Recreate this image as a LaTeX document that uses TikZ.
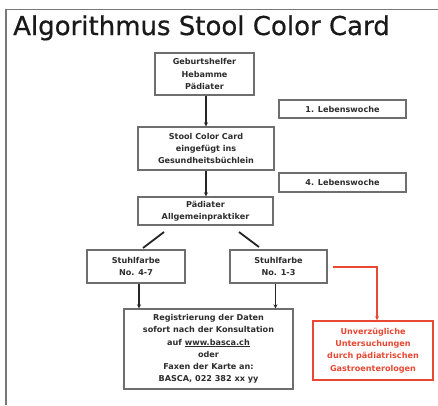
\documentclass[tikz,border=0pt]{standalone}
\usepackage{fontspec}
\setmainfont{DejaVu Sans}
\newfontfamily\titlefont[FakeBold=0.6]{DejaVu Sans}
\usetikzlibrary{arrows.meta}
\definecolor{frame}{RGB}{120,120,120}
\definecolor{boxline}{RGB}{110,110,110}
\definecolor{txt}{RGB}{45,45,45}
\definecolor{redc}{RGB}{232,72,52}
\tikzset{
  box/.style={draw=boxline, line width=1.4pt, fill=white, inner sep=0pt, align=center,
    font=\bfseries\fontsize{8.1}{12.3}\selectfont, text=txt},
  redbox/.style={draw=redc, line width=1.6pt, fill=white, inner sep=0pt, align=center,
    font=\bfseries\fontsize{8.1}{12.3}\selectfont, text=redc},
  arr/.style={draw=black!85, line width=1.6pt, -{Stealth[length=4pt,width=4pt]}},
  plain/.style={draw=black!85, line width=1.8pt},
  redarr/.style={draw=redc, line width=1.6pt, -{Stealth[length=4pt,width=4pt]}}
}
\begin{document}
\begin{tikzpicture}[x=1pt,y=-1pt]
\useasboundingbox (0,0) rectangle (438,405);
\fill[white] (0,0) rectangle (438,405);
\draw[frame, line width=1.5pt] (6,405) -- (6,9.5) -- (438,9.5);
\node[anchor=base west, inner sep=0pt, text=black!90, font=\titlefont\fontsize{26}{28}\selectfont] (title) at (13,35) {Algorithmus Stool Color Card};

\node[box, minimum width=99pt, minimum height=42pt] (b1) at (204.5,74) {Geburtshelfer\\Hebamme\\Pädiater};
\node[box, minimum width=136pt, minimum height=43pt] (b2) at (206,148.5) {Stool Color Card\\eingefügt ins\\Gesundheitsbüchlein};
\node[box, minimum width=135pt, minimum height=28pt] (b3) at (205.5,211) {Pädiater\\Allgemeinpraktiker};
\node[box, minimum width=127pt, minimum height=18pt] (l1) at (342.5,109) {1. Lebenswoche};
\node[box, minimum width=127pt, minimum height=19pt] (l4) at (342.5,182.5) {4. Lebenswoche};
\node[box, minimum width=98pt, minimum height=33pt] (s1) at (136,266.5) {Stuhlfarbe\\No. 4-7};
\node[box, minimum width=97pt, minimum height=33pt] (s2) at (278.5,266.5) {Stuhlfarbe\\No. 1-3};
\node[box, minimum width=169pt, minimum height=80pt] (bt) at (208.5,349) {Registrierung der Daten\\sofort nach der Konsultation\\auf \underline{www.basca.ch}\\oder\\Faxen der Karte an:\\BASCA, 022 382 xx yy};
\node[redbox, minimum width=120pt, minimum height=59pt] (rd) at (373,350.5) {Unverzügliche\\Untersuchungen\\durch pädiatrischen\\Gastroenterologen};

\draw[arr] ([xshift=1.5pt]b1.south) -- ([xshift=1.5pt]b1.south |- b2.north);
\draw[arr] (b2.south) -- (b2.south |- b3.north);
\coordinate (d1a) at (164,232);
\coordinate (d1b) at (143,248);
\coordinate (d2a) at (239,232);
\coordinate (d2b) at (259,247);
\draw[plain] (d1a) -- (d1b);
\draw[plain] (d2a) -- (d2b);
\draw[arr] ([xshift=3pt]s1.south) -- ([xshift=3pt]s1.south |- bt.north);
\draw[arr] ([xshift=-3pt]s2.south) -- ([xshift=-3pt]s2.south |- bt.north);
\coordinate (r0) at (333,267);
\draw[redarr] (r0) -| ([xshift=4pt]rd.north);
\end{tikzpicture}
\end{document}
